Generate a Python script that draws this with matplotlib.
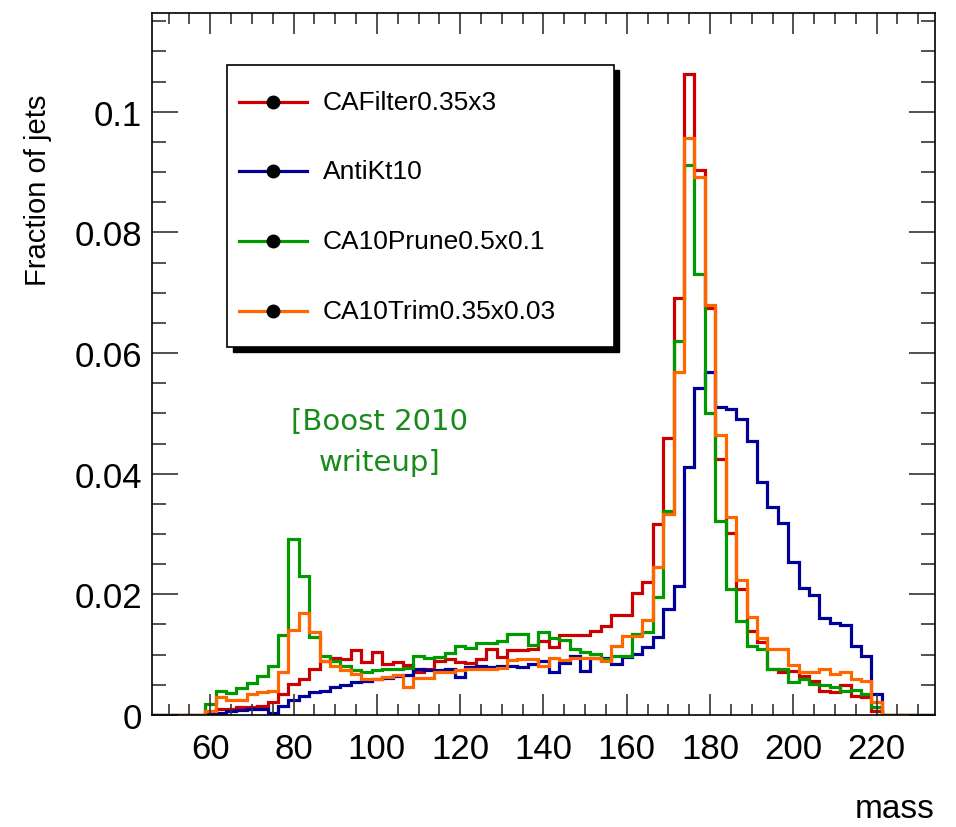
import numpy as np
import matplotlib
matplotlib.use('Agg')
import matplotlib.pyplot as plt
from matplotlib.patches import Rectangle
from matplotlib.lines import Line2D

plt.rcParams['font.family'] = ['Liberation Sans Narrow', 'Liberation Sans', 'DejaVu Sans']

# binning: 2.5 GeV bins starting at 58.75
bin_start = 58.75
bin_width = 2.5
x_min, x_max = 46, 234

labels = ['CAFilter0.35x3', 'AntiKt10', 'CA10Prune0.5x0.1', 'CA10Trim0.35x0.03']
colors = ['#cc0000', '#000099', '#009900', '#ff6600']

# fraction of jets per bin
ca_filter = [0.0007, 0.0010, 0.0010, 0.0013, 0.0014, 0.0015, 0.0022, 0.0035, 0.0052, 0.0059,
             0.0077, 0.0090, 0.0094, 0.0093, 0.0107, 0.0088, 0.0104, 0.0085, 0.0087, 0.0083,
             0.0071, 0.0076, 0.0090, 0.0092, 0.0088, 0.0086, 0.0093, 0.0109, 0.0096, 0.0107,
             0.0108, 0.0109, 0.0123, 0.0112, 0.0133, 0.0133, 0.0133, 0.0140, 0.0148, 0.0165,
             0.0165, 0.0203, 0.0221, 0.0316, 0.0459, 0.0691, 0.1063, 0.0903, 0.0675, 0.0425,
             0.0302, 0.0209, 0.0140, 0.0121, 0.0076, 0.0071, 0.0073, 0.0065, 0.0057, 0.0040,
             0.0038, 0.0049, 0.0032, 0.0029, 0.0007]
antikt10 = [0.0002, 0.0004, 0.0006, 0.0009, 0.0010, 0.0010, 0.0004, 0.0015, 0.0025, 0.0032,
            0.0038, 0.0040, 0.0046, 0.0050, 0.0055, 0.0056, 0.0059, 0.0062, 0.0065, 0.0066,
            0.0076, 0.0075, 0.0074, 0.0076, 0.0063, 0.0080, 0.0082, 0.0080, 0.0082, 0.0081,
            0.0079, 0.0085, 0.0090, 0.0072, 0.0086, 0.0098, 0.0073, 0.0095, 0.0094, 0.0085,
            0.0096, 0.0101, 0.0113, 0.0130, 0.0175, 0.0214, 0.0411, 0.0542, 0.0568, 0.0511,
            0.0507, 0.0491, 0.0454, 0.0387, 0.0344, 0.0318, 0.0253, 0.0211, 0.0199, 0.0161,
            0.0152, 0.0149, 0.0115, 0.0097, 0.0035]
ca10_prune = [0.0018, 0.0040, 0.0036, 0.0044, 0.0053, 0.0065, 0.0081, 0.0133, 0.0292, 0.0230,
              0.0130, 0.0097, 0.0090, 0.0082, 0.0075, 0.0072, 0.0074, 0.0076, 0.0077, 0.0078,
              0.0098, 0.0094, 0.0096, 0.0103, 0.0115, 0.0111, 0.0119, 0.0120, 0.0122, 0.0134,
              0.0134, 0.0116, 0.0137, 0.0128, 0.0125, 0.0109, 0.0105, 0.0101, 0.0093, 0.0098,
              0.0098, 0.0134, 0.0137, 0.0195, 0.0338, 0.0620, 0.0912, 0.0731, 0.0500, 0.0322,
              0.0209, 0.0156, 0.0115, 0.0109, 0.0076, 0.0077, 0.0054, 0.0060, 0.0051, 0.0049,
              0.0046, 0.0040, 0.0042, 0.0035, 0.0013]
ca10_trim = [0.0007, 0.0030, 0.0025, 0.0025, 0.0034, 0.0038, 0.0040, 0.0071, 0.0141, 0.0169,
             0.0137, 0.0090, 0.0082, 0.0075, 0.0068, 0.0060, 0.0059, 0.0063, 0.0066, 0.0047,
             0.0061, 0.0061, 0.0071, 0.0072, 0.0074, 0.0076, 0.0077, 0.0077, 0.0078, 0.0091,
             0.0092, 0.0092, 0.0082, 0.0094, 0.0091, 0.0095, 0.0095, 0.0094, 0.0089, 0.0114,
             0.0131, 0.0131, 0.0157, 0.0245, 0.0333, 0.0569, 0.0956, 0.0892, 0.0679, 0.0464,
             0.0328, 0.0223, 0.0162, 0.0127, 0.0109, 0.0109, 0.0083, 0.0071, 0.0071, 0.0077,
             0.0068, 0.0071, 0.0060, 0.0056, 0.0021]

series = [ca_filter, antikt10, ca10_prune, ca10_trim]

fig = plt.figure(figsize=(9.56, 8.28), dpi=100)
ax = fig.add_axes([0.159, 0.1353, 0.819, 0.848])

n = len(ca_filter)
edges = bin_start + bin_width * np.arange(n + 1)
full_edges = np.concatenate([[x_min], edges, [x_max]])
for vals, col in zip(series, colors):
    full_vals = np.concatenate([[0], vals, [0]])
    ax.stairs(full_vals, full_edges, baseline=None, color=col, lw=2.3)

ax.set_xlim(x_min, x_max)
ax.set_ylim(0, 0.1164)
ax.set_xticks(np.arange(60, 221, 20))
ax.set_xticks(np.arange(50, 234, 5), minor=True)
ax.set_yticks([0, 0.02, 0.04, 0.06, 0.08, 0.1])
ax.set_yticklabels(['0', '0.02', '0.04', '0.06', '0.08', '0.1'])
ax.set_yticks(np.arange(0, 0.116, 0.005), minor=True)
ax.tick_params(which='both', direction='in', top=True, right=True, width=1.2, color='#333333')
ax.tick_params(axis='x', which='major', length=15, labelsize=25, pad=12)
ax.tick_params(axis='x', which='minor', length=8)
ax.tick_params(axis='y', which='major', length=19, labelsize=25, pad=7)
ax.tick_params(axis='y', which='minor', length=10)
for s in ax.spines.values():
    s.set_linewidth(1.2)

fig.text(0.040, 0.770, 'Fraction of jets', rotation=90, ha='center', va='center', fontsize=21)
fig.text(0.978, 0.022, 'mass', ha='right', va='center', fontsize=24)

# legend box drawn ROOT style with a solid shadow
lx0, lx1, ly0, ly1 = 0.0963, 0.5897, 0.524, 0.926
sh = 0.007
ax.add_patch(Rectangle((lx0 + sh, ly0 - sh * 1.1), lx1 - lx0, ly1 - ly0, transform=ax.transAxes,
                       facecolor='black', edgecolor='black', zorder=5))
ax.add_patch(Rectangle((lx0, ly0), lx1 - lx0, ly1 - ly0, transform=ax.transAxes,
                       facecolor='white', edgecolor='black', lw=1.2, zorder=6))
row_y = [0.873, 0.775, 0.675, 0.575]
for yy, lab, col in zip(row_y, labels, colors):
    ax.add_line(Line2D([0.1117, 0.1974], [yy, yy], transform=ax.transAxes, color=col, lw=2.3, zorder=7))
    ax.add_line(Line2D([0.154], [yy], transform=ax.transAxes, marker='o', color='black',
                       markersize=9, zorder=8))
    ax.text(0.2177, yy, lab, transform=ax.transAxes, ha='left', va='center', fontsize=19, zorder=8)

ax.text(0.2906, 0.390, '[Boost 2010\nwriteup]', transform=ax.transAxes, ha='center', va='center',
        fontsize=21, color='#1a8a1a', family='DejaVu Sans', linespacing=1.6)

fig.savefig('out.png', dpi=100)
